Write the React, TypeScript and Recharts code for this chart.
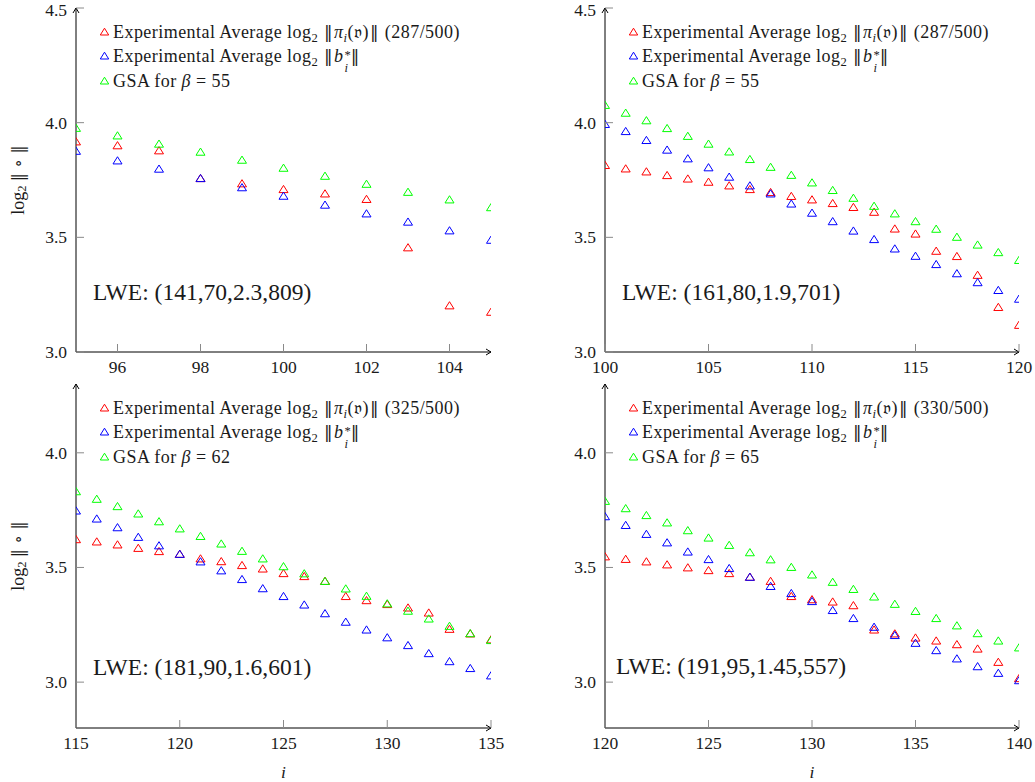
import React from "react";
import { ScatterChart, Scatter, XAxis, YAxis } from "recharts";

const FONT = "'Liberation Serif', 'Times New Roman', Tinos, serif";
const TEXT = "#1a1a1a";
const TICK = "#8a8a8a";
const RED = "#ff0000";
const BLUE = "#0000ff";
const GREEN = "#00ff00";

// LWE (141,70,2.3,809)
const idxA = [95, 96, 97, 98, 99, 100, 101, 102, 103, 104, 105];
const projA = [3.917, 3.9, 3.878, 3.757, 3.734, 3.709, 3.69, 3.666, 3.455, 3.202, 3.174];
const gsoA = [3.876, 3.834, 3.798, 3.757, 3.717, 3.68, 3.641, 3.603, 3.567, 3.529, 3.488];
const gsaA = [3.976, 3.943, 3.907, 3.872, 3.837, 3.802, 3.767, 3.732, 3.697, 3.664, 3.63];

// LWE (161,80,1.9,701)
const idxB = [100, 101, 102, 103, 104, 105, 106, 107, 108, 109, 110, 111, 112, 113, 114, 115, 116, 117, 118, 119, 120];
const projB = [3.814, 3.799, 3.786, 3.77, 3.755, 3.741, 3.725, 3.709, 3.696, 3.679, 3.664, 3.648, 3.631, 3.61, 3.537, 3.515, 3.44, 3.417, 3.335, 3.195, 3.117];
const gsoB = [3.993, 3.962, 3.923, 3.881, 3.843, 3.804, 3.763, 3.725, 3.69, 3.646, 3.606, 3.569, 3.528, 3.491, 3.45, 3.418, 3.382, 3.342, 3.303, 3.269, 3.231];
const gsaB = [4.076, 4.042, 4.009, 3.975, 3.941, 3.907, 3.873, 3.84, 3.806, 3.771, 3.738, 3.705, 3.671, 3.636, 3.603, 3.569, 3.536, 3.501, 3.467, 3.434, 3.4];

// LWE (181,90,1.6,601)
const idxC = [115, 116, 117, 118, 119, 120, 121, 122, 123, 124, 125, 126, 127, 128, 129, 130, 131, 132, 133, 134, 135];
const projC = [3.622, 3.612, 3.599, 3.584, 3.57, 3.558, 3.538, 3.526, 3.509, 3.494, 3.474, 3.461, 3.44, 3.374, 3.356, 3.339, 3.324, 3.302, 3.231, 3.211, 3.185];
const gsoC = [3.747, 3.712, 3.674, 3.632, 3.595, 3.558, 3.525, 3.486, 3.448, 3.408, 3.374, 3.337, 3.299, 3.262, 3.228, 3.194, 3.16, 3.125, 3.09, 3.06, 3.028];
const gsaC = [3.831, 3.798, 3.766, 3.734, 3.7, 3.669, 3.636, 3.603, 3.571, 3.538, 3.504, 3.473, 3.44, 3.407, 3.375, 3.342, 3.31, 3.276, 3.244, 3.212, 3.182];

// LWE (191,95,1.45,557)
const idxD = [120, 121, 122, 123, 124, 125, 126, 127, 128, 129, 130, 131, 132, 133, 134, 135, 136, 137, 138, 139, 140];
const projD = [3.547, 3.536, 3.525, 3.512, 3.499, 3.487, 3.474, 3.458, 3.44, 3.374, 3.36, 3.35, 3.334, 3.228, 3.211, 3.193, 3.18, 3.164, 3.145, 3.087, 3.016];
const gsoD = [3.722, 3.684, 3.645, 3.608, 3.568, 3.535, 3.496, 3.458, 3.418, 3.387, 3.352, 3.313, 3.278, 3.24, 3.204, 3.17, 3.138, 3.102, 3.068, 3.039, 3.007];
const gsaD = [3.789, 3.757, 3.727, 3.695, 3.661, 3.629, 3.597, 3.565, 3.534, 3.501, 3.468, 3.436, 3.405, 3.372, 3.34, 3.309, 3.278, 3.246, 3.212, 3.18, 3.15];

const xTicksA = [96, 98, 100, 102, 104];
const xTicksB = [100, 105, 110, 115, 120];
const xTicksC = [115, 120, 125, 130, 135];
const xTicksD = [120, 125, 130, 135, 140];
const yTicksTop = [3.0, 3.5, 4.0, 4.5];
const yTicksBottom = [3.0, 3.5, 4.0];

const toPoints = (xs: number[], ys: number[]) => xs.map((i, k) => ({ i, v: ys[k] }));

const triangle = (color: string) => (props: any) => {
  const { cx, cy } = props;
  if (cx == null || cy == null) return <g />;
  return (
    <path
      d={`M${cx},${cy - 4} L${cx + 4.5},${cy + 3.2} L${cx - 4.5},${cy + 3.2} Z`}
      fill="none"
      stroke={color}
      strokeWidth={1}
    />
  );
};

function XTick(props: any) {
  const { x, y, payload } = props;
  return (
    <g>
      <line x1={x} x2={x} y1={y} y2={y - 8} stroke={TICK} strokeWidth={1} />
      <text x={x} y={y + 15} textAnchor="middle" dominantBaseline="central" fontFamily={FONT} fontSize={17.5} fill={TEXT}>
        {payload.value}
      </text>
    </g>
  );
}

function YTick(props: any) {
  const { x, y, payload } = props;
  // keep the topmost label inside the picture
  const ly = Math.max(y, 9.5);
  return (
    <g>
      <line x1={x} x2={x + 8} y1={y} y2={y} stroke={TICK} strokeWidth={1} />
      <text x={x - 9} y={ly} textAnchor="end" dominantBaseline="central" fontFamily={FONT} fontSize={17.5} fill={TEXT}>
        {Number(payload.value).toFixed(1)}
      </text>
    </g>
  );
}

const Sub = ({ children }: { children: React.ReactNode }) => (
  <span style={{ fontSize: "0.7em", position: "relative", top: "0.3em", lineHeight: 0 }}>{children}</span>
);

const Bars = () => (
  <span style={{ fontFamily: "'DejaVu Serif', serif", fontSize: "0.95em", fontWeight: 300, margin: "0 1px" }}>‖</span>
);

function projLabel(frac: string) {
  return (
    <>
      Experimental Average log<Sub>2</Sub> <Bars />
      <i>π</i>
      <Sub>
        <i>i</i>
      </Sub>
      (𝔳)
      <Bars /> ({frac})
    </>
  );
}

const gsoLabel = (
  <>
    Experimental Average log<Sub>2</Sub> <Bars />
    <i>b</i>
    <span style={{ position: "relative", display: "inline-block", width: "0.5em", fontSize: "0.7em", lineHeight: 0 }}>
      <span style={{ position: "absolute", left: 1, top: "-0.55em" }}>*</span>
      <i style={{ position: "absolute", left: 1, top: "0.45em" }}>i</i>
    </span>
    <Bars />
  </>
);

const gsaLabel = (beta: string) => (
  <>
    GSA for <i>β</i> = {beta}
  </>
);

type PanelProps = {
  left: number;
  top: number;
  width: number;
  height: number;
  marginTop: number;
  marginRight: number;
  xAxisHeight: number;
  xDomain: [number, number];
  xTicks: number[];
  yDomain: [number, number];
  yTicks: number[];
  idx: number[];
  proj: number[];
  gso: number[];
  gsa: number[];
  frac: string;
  beta: string;
  lwe: string;
  lweDx: number;
  lweDy: number;
  yLabel: boolean;
  xLabel: boolean;
};

function Panel(p: PanelProps) {
  const yAxisWidth = 76;
  const plotLeft = yAxisWidth;
  const plotTop = p.marginTop;
  const plotRight = p.width - p.marginRight;
  const plotBottom = p.height - p.xAxisHeight;
  const midX = (plotLeft + plotRight) / 2;
  const midY = (plotTop + plotBottom) / 2;

  const legendRows = [
    { color: RED, label: projLabel(p.frac) },
    { color: BLUE, label: gsoLabel },
    { color: GREEN, label: gsaLabel(p.beta) },
  ];

  return (
    <div style={{ position: "absolute", left: p.left, top: p.top, width: p.width, height: p.height }}>
      <ScatterChart
        width={p.width}
        height={p.height}
        margin={{ top: p.marginTop, right: p.marginRight, bottom: 0, left: 0 }}
      >
        <XAxis
          type="number"
          dataKey="i"
          domain={p.xDomain}
          ticks={p.xTicks}
          interval={0}
          height={p.xAxisHeight}
          tickSize={0}
          tickMargin={0}
          tickLine={false}
          axisLine={{ stroke: "#000", strokeWidth: 1 }}
          tick={(t: any) => <XTick {...t} />}
          allowDataOverflow
        />
        <YAxis
          type="number"
          dataKey="v"
          domain={p.yDomain}
          ticks={p.yTicks}
          interval={0}
          width={yAxisWidth}
          tickSize={0}
          tickMargin={0}
          tickLine={false}
          axisLine={{ stroke: "#000", strokeWidth: 1 }}
          tick={(t: any) => <YTick {...t} />}
          allowDataOverflow
        />
        <Scatter data={toPoints(p.idx, p.proj)} shape={triangle(RED)} isAnimationActive={false} />
        <Scatter data={toPoints(p.idx, p.gso)} shape={triangle(BLUE)} isAnimationActive={false} />
        <Scatter data={toPoints(p.idx, p.gsa)} shape={triangle(GREEN)} isAnimationActive={false} />

        {/* axis arrows */}
        <path
          d={`M${plotLeft - 3},${plotTop + 5} L${plotLeft},${plotTop} L${plotLeft + 3},${plotTop + 5}`}
          fill="none"
          stroke="#000"
          strokeWidth={1}
        />
        <path
          d={`M${plotRight - 5},${plotBottom - 3} L${plotRight},${plotBottom} L${plotRight - 5},${plotBottom + 3}`}
          fill="none"
          stroke="#000"
          strokeWidth={1}
        />

        <text
          x={plotLeft + p.lweDx}
          y={plotTop + p.lweDy}
          dominantBaseline="central"
          fontFamily={FONT}
          fontSize={23.5}
          fill={TEXT}
        >
          {p.lwe}
        </text>

        {p.yLabel && (
          <text
            transform={`translate(18, ${midY}) rotate(-90)`}
            textAnchor="middle"
            dominantBaseline="central"
            fontFamily={FONT}
            fontSize={18}
            fill={TEXT}
          >
            log
            <tspan dy={4} fontSize={12.5}>
              2
            </tspan>
            <tspan dy={-4} dx={4} fontFamily="'DejaVu Serif', serif" fontSize={17}>
              ‖ ∘ ‖
            </tspan>
          </text>
        )}
        {p.xLabel && (
          <text
            x={midX}
            y={plotBottom + 44}
            textAnchor="middle"
            dominantBaseline="central"
            fontFamily={FONT}
            fontStyle="italic"
            fontSize={17.5}
            fill={TEXT}
          >
            i
          </text>
        )}
      </ScatterChart>

      <div
        style={{
          position: "absolute",
          left: plotLeft + 23,
          top: plotTop + 24 - 12.25,
          fontFamily: FONT,
          fontSize: 18,
          letterSpacing: 0.45,
          color: TEXT,
        }}
      >
        {legendRows.map((r, k) => (
          <div key={k} style={{ position: "relative", height: 24.5, lineHeight: "24.5px", whiteSpace: "nowrap", paddingLeft: 14 }}>
            <svg width={11} height={10} style={{ position: "absolute", left: 0, top: 7 }}>
              <path d="M5.5,1.2 L9.7,8 L1.3,8 Z" fill="none" stroke={r.color} strokeWidth={1} />
            </svg>
            {r.label}
          </div>
        ))}
      </div>
    </div>
  );
}

export default function App() {
  return (
    <div style={{ position: "absolute", left: 0, top: 0, width: 1035, height: 782, background: "#fff" }}>
      <Panel
        left={0}
        top={0}
        width={510}
        height={380}
        marginTop={8}
        marginRight={19}
        xAxisHeight={28}
        xDomain={[95, 105]}
        xTicks={xTicksA}
        yDomain={[3.0, 4.5]}
        yTicks={yTicksTop}
        idx={idxA}
        proj={projA}
        gso={gsoA}
        gsa={gsaA}
        frac="287/500"
        beta="55"
        lwe="LWE: (141,70,2.3,809)"
        lweDx={17}
        lweDy={284}
        yLabel
        xLabel={false}
      />
      <Panel
        left={529}
        top={0}
        width={506}
        height={380}
        marginTop={8}
        marginRight={16}
        xAxisHeight={28}
        xDomain={[100, 120]}
        xTicks={xTicksB}
        yDomain={[3.0, 4.5]}
        yTicks={yTicksTop}
        idx={idxB}
        proj={projB}
        gso={gsoB}
        gsa={gsaB}
        frac="287/500"
        beta="55"
        lwe="LWE: (161,80,1.9,701)"
        lweDx={17}
        lweDy={284}
        yLabel={false}
        xLabel={false}
      />
      <Panel
        left={0}
        top={374}
        width={510}
        height={408}
        marginTop={10}
        marginRight={19}
        xAxisHeight={54}
        xDomain={[115, 135]}
        xTicks={xTicksC}
        yDomain={[2.8, 4.3]}
        yTicks={yTicksBottom}
        idx={idxC}
        proj={projC}
        gso={gsoC}
        gsa={gsaC}
        frac="325/500"
        beta="62"
        lwe="LWE: (181,90,1.6,601)"
        lweDx={17}
        lweDy={283}
        yLabel
        xLabel
      />
      <Panel
        left={529}
        top={374}
        width={506}
        height={408}
        marginTop={10}
        marginRight={16}
        xAxisHeight={54}
        xDomain={[120, 140]}
        xTicks={xTicksD}
        yDomain={[2.8, 4.3]}
        yTicks={yTicksBottom}
        idx={idxD}
        proj={projD}
        gso={gsoD}
        gsa={gsaD}
        frac="330/500"
        beta="65"
        lwe="LWE: (191,95,1.45,557)"
        lweDx={11}
        lweDy={282}
        yLabel={false}
        xLabel
      />
    </div>
  );
}
